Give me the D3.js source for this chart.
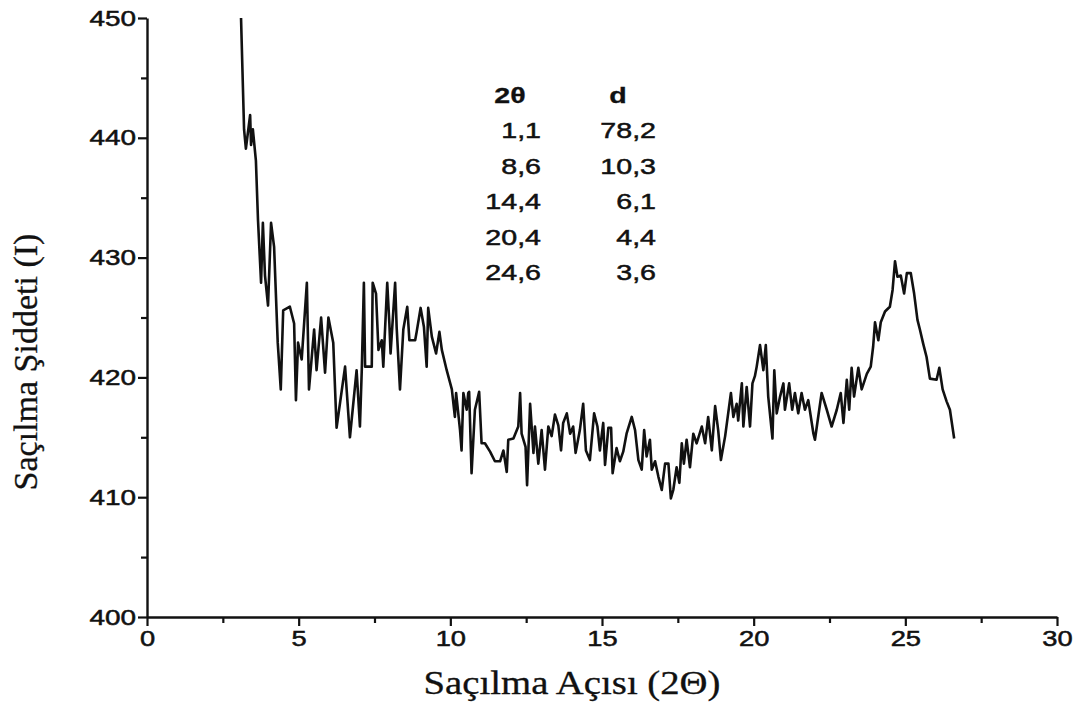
<!DOCTYPE html>
<html>
<head>
<meta charset="utf-8">
<script src="https://cdn.jsdelivr.net/npm/d3@7"></script>
<style>
  body { margin: 0; background: #fff; }
  svg { display: block; }
</style>
</head>
<body>
<svg id="chart" width="1086" height="716"></svg>
<script>
// Scattering angle 2θ (degrees) of each recorded point
const angle2Theta = [
  3.10,3.20,3.26,3.40,3.43,3.49,3.59,3.66,3.76,3.82,3.89,3.99,4.09,4.19,4.31,4.41,4.49,4.71,4.85,4.91,
  4.98,5.10,5.27,5.34,5.51,5.59,5.74,5.87,5.98,6.14,6.25,6.53,6.69,6.91,7.02,7.08,7.15,7.19,7.41,7.44,
  7.55,7.63,7.74,7.79,7.92,7.99,8.03,8.18,8.23,8.34,8.45,8.58,8.65,8.84,8.89,9.02,9.13,9.22,9.27,9.39,
  9.53,9.64,9.72,9.88,10.05,10.15,10.19,10.32,10.37,10.43,10.54,10.59,10.62,10.70,10.81,10.95,11.03,11.14,11.31,11.47,
  11.64,11.75,11.86,11.91,12.08,12.24,12.30,12.35,12.48,12.53,12.63,12.74,12.79,12.90,13.01,13.12,13.23,13.34,13.45,13.56,
  13.65,13.72,13.84,13.95,14.05,14.13,14.27,14.38,14.47,14.60,14.74,14.85,14.93,15.04,15.10,15.21,15.30,15.35,15.48,15.59,
  15.70,15.81,15.98,16.09,16.20,16.31,16.39,16.47,16.58,16.64,16.75,16.86,16.97,17.08,17.19,17.27,17.35,17.46,17.55,17.63,
  17.70,17.79,17.90,18.01,18.12,18.29,18.40,18.50,18.62,18.73,18.83,18.92,19.06,19.16,19.25,19.33,19.44,19.49,19.61,19.66,
  19.77,19.88,19.96,20.04,20.10,20.21,20.32,20.40,20.48,20.62,20.68,20.76,20.87,20.98,21.03,21.17,21.27,21.36,21.47,21.58,
  21.69,21.80,21.97,22.02,22.24,22.41,22.57,22.74,22.87,22.96,23.07,23.15,23.23,23.31,23.45,23.56,23.73,23.86,23.94,24.00,
  24.11,24.19,24.33,24.49,24.58,24.66,24.74,24.85,24.96,25.05,25.18,25.29,25.40,25.48,25.59,25.70,25.81,26.03,26.12,26.23,
  26.36,26.47,26.61
];

// Scattered intensity I at each angle
const intensity = [
  450.0,440.7,439.1,441.9,439.4,440.7,438.1,433.1,427.9,432.9,428.5,426.0,432.9,430.9,422.9,419.0,425.6,425.9,424.5,418.1,
  422.9,421.5,427.9,419.0,424.0,420.6,425.0,420.4,425.0,422.9,415.8,420.9,415.0,420.6,415.9,420.6,427.9,420.9,420.9,427.9,
  427.0,422.3,423.1,420.9,427.9,424.5,422.0,427.9,424.2,419.0,424.0,425.9,423.1,423.1,423.8,425.8,424.2,420.9,425.8,423.4,
  422.0,423.8,422.3,420.6,419.0,416.7,418.7,415.6,413.9,418.7,417.3,418.7,418.8,412.0,417.3,418.8,414.5,414.5,413.8,413.0,
  413.0,413.9,412.1,414.8,414.9,415.9,418.7,415.3,414.2,411.0,417.8,413.7,415.9,412.8,415.6,412.3,415.9,415.1,416.9,416.0,
  413.9,416.2,417.0,415.3,415.9,413.7,415.6,417.8,413.9,413.1,417.0,415.9,413.9,416.2,412.7,415.8,415.8,412.0,414.1,413.0,
  413.8,415.3,416.7,415.6,413.1,412.3,415.6,413.4,414.8,412.3,413.0,411.7,410.6,412.8,412.8,409.9,410.6,412.5,411.2,414.5,
  412.8,414.8,412.5,415.3,414.5,415.9,414.5,416.7,413.9,417.6,415.6,413.1,415.1,417.0,418.7,416.7,417.8,416.4,419.5,415.9,
  419.2,415.9,419.5,420.1,420.9,422.7,420.6,422.7,418.4,414.9,420.6,417.0,418.4,419.5,417.3,419.5,417.3,418.7,417.0,418.7,
  417.3,418.1,415.3,414.8,418.7,417.3,415.9,417.3,418.7,416.2,419.8,417.3,420.8,418.4,420.8,419.0,420.3,420.9,422.6,424.6,
  423.1,424.6,425.5,425.9,427.3,429.7,428.4,428.5,427.0,428.7,428.7,427.0,424.8,424.0,422.8,421.7,419.9,419.8,420.8,419.0,
  418.0,417.3,414.9
];

// Peak table: peak position 2θ and interplanar spacing d
const peakAngles = [1.1, 8.6, 14.4, 20.4, 24.6];
const dSpacings  = [78.2, 10.3, 6.1, 4.4, 3.6];

// Axis ticks
const xMajorTicks = [0, 5, 10, 15, 20, 25, 30];
const xMinorTicks = [2.5, 7.5, 12.5, 17.5, 22.5, 27.5];
const yMajorTicks = [400, 410, 420, 430, 440, 450];
const yMinorTicks = [405, 415, 425, 435, 445];

const svg = d3.select("#chart");
svg.append("rect").attr("width", 1086).attr("height", 716).attr("fill", "#fff");

const x = d3.scaleLinear().domain([0, 30]).range([147, 1057]);
const y = d3.scaleLinear().domain([400, 450]).range([617, 18]);

const ink = "#111";
const sansFont = "'Liberation Sans', Arial, Helvetica, sans-serif";
const serifFont = "'Liberation Serif', 'Times New Roman', serif";
const tickScaleX = 1.27;

// Slightly heavier strokes on text so it reads like printed type
function inked(sel, w) {
  return sel.attr("fill", ink).attr("stroke", ink).attr("stroke-width", w);
}

// Bottom axis
const gx = svg.append("g").attr("transform", `translate(0,${y(400)})`)
  .call(d3.axisBottom(x).tickValues(xMajorTicks).tickSize(9).tickSizeOuter(0)
    .tickPadding(5).tickFormat(d3.format("d")));
gx.select(".domain").attr("stroke", ink).attr("stroke-width", 2.4);
gx.selectAll(".tick line").attr("stroke", ink).attr("stroke-width", 2.2);
inked(gx.selectAll(".tick text"), 0.5)
  .attr("font-family", sansFont).attr("font-size", 21.5)
  .attr("transform", `scale(${tickScaleX},1)`);

const gxMinor = svg.append("g").attr("transform", `translate(0,${y(400)})`)
  .call(d3.axisBottom(x).tickValues(xMinorTicks).tickSize(6).tickSizeOuter(0).tickFormat(""));
gxMinor.select(".domain").remove();
gxMinor.selectAll(".tick line").attr("stroke", ink).attr("stroke-width", 2.2);

// Left axis
const gy = svg.append("g").attr("transform", `translate(${x(0)},0)`)
  .call(d3.axisLeft(y).tickValues(yMajorTicks).tickSize(9).tickSizeOuter(0)
    .tickPadding(0).tickFormat(d3.format("d")));
gy.select(".domain").attr("stroke", ink).attr("stroke-width", 2.4);
gy.selectAll(".tick line").attr("stroke", ink).attr("stroke-width", 2.2);
inked(gy.selectAll(".tick text"), 0.5)
  .attr("font-family", sansFont).attr("font-size", 22)
  .attr("x", -11 / tickScaleX)
  .attr("transform", `scale(${tickScaleX},1)`);

const gyMinor = svg.append("g").attr("transform", `translate(${x(0)},0)`)
  .call(d3.axisLeft(y).tickValues(yMinorTicks).tickSize(6).tickSizeOuter(0).tickFormat(""));
gyMinor.select(".domain").remove();
gyMinor.selectAll(".tick line").attr("stroke", ink).attr("stroke-width", 2.2);

// Axis titles
inked(svg.append("text"), 0.3)
  .attr("transform", "translate(572,694) scale(1.14,1)")
  .attr("text-anchor", "middle")
  .attr("font-family", serifFont).attr("font-size", 34)
  .text("Saçılma Açısı (2Θ)");

inked(svg.append("text"), 0.3)
  .attr("transform", "translate(37,362) rotate(-90)")
  .attr("text-anchor", "middle")
  .attr("font-family", serifFont).attr("font-size", 34)
  .text("Saçılma Şiddeti (I)");

// Intensity trace
const points = angle2Theta.map((a, i) => [a, intensity[i]]).filter(p => p[1] !== undefined);
svg.append("path")
  .datum(points)
  .attr("fill", "none")
  .attr("stroke", ink)
  .attr("stroke-width", 2.6)
  .attr("stroke-linejoin", "round")
  .attr("d", d3.line().x(d => x(d[0])).y(d => y(d[1])));

// Peak table
const commaFmt = d3.formatLocale({ decimal: ",", thousands: ".", grouping: [3], currency: ["", ""] }).format(".1f");
const tableScaleX = 1.3;
const table = svg.append("g").attr("font-family", sansFont);

inked(table.append("text"), 0.3)
  .attr("transform", `translate(510,103) scale(${tableScaleX},1)`)
  .attr("text-anchor", "middle").attr("font-size", 22).attr("font-weight", "bold")
  .text("2θ");
inked(table.append("text"), 0.3)
  .attr("transform", `translate(618,103) scale(${tableScaleX},1)`)
  .attr("text-anchor", "middle").attr("font-size", 22).attr("font-weight", "bold")
  .text("d");

const rowBaselines = peakAngles.map((_, i) => 138 + i * 35.6);
inked(table.selectAll("text.angle")
  .data(peakAngles)
  .join("text").attr("class", "angle"), 0.5)
  .attr("transform", (d, i) => `translate(541,${rowBaselines[i]}) scale(${tableScaleX},1)`)
  .attr("text-anchor", "end").attr("font-size", 22)
  .text(d => commaFmt(d));
inked(table.selectAll("text.spacing")
  .data(dSpacings)
  .join("text").attr("class", "spacing"), 0.5)
  .attr("transform", (d, i) => `translate(656,${rowBaselines[i]}) scale(${tableScaleX},1)`)
  .attr("text-anchor", "end").attr("font-size", 22)
  .text(d => commaFmt(d));
</script>
</body>
</html>
